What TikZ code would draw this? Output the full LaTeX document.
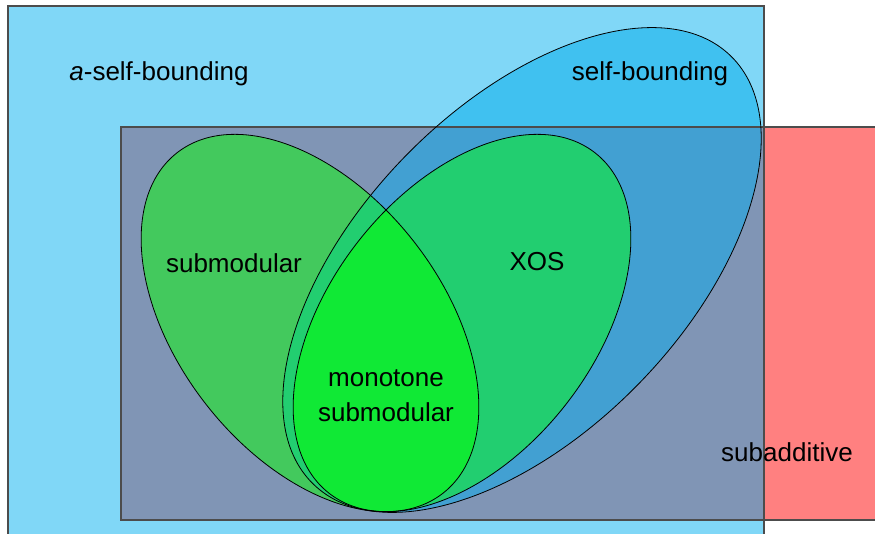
\documentclass[tikz,border=0pt]{standalone}
\usepackage{fontspec}
\setmainfont{Liberation Sans}
\definecolor{cBlue}{RGB}{128,215,247}
\definecolor{cRed}{RGB}{255,128,128}
\definecolor{cGray}{RGB}{128,149,181}
\definecolor{cBtop}{RGB}{64,193,240}
\definecolor{cBlow}{RGB}{66,160,210}
\definecolor{cS}{RGB}{67,201,93}
\definecolor{cX}{RGB}{34,206,112}
\definecolor{cM}{RGB}{16,233,53}
\newcommand\ellS{(310,-323) ellipse [x radius=216, y radius=132]}
\newcommand\ellX{(462,-323) ellipse [x radius=216, y radius=132]}
\newcommand\ellB{(522,-270) ellipse [x radius=299, y radius=163]}
\begin{document}
\begin{tikzpicture}[x=1pt,y=1pt,
  shapeS/.style={rotate around={-52:(310,-323)}},
  shapeX/.style={rotate around={52:(462,-323)}},
  shapeB/.style={rotate around={45.7:(522,-270)}},
  rectline/.style={draw=black!70, line width=1.3pt},
  ellline/.style={draw=black, line width=0.8pt},
  lbl/.style={font=\fontsize{26}{35}\selectfont, align=center, inner sep=0pt}]
\useasboundingbox (0,0) rectangle (875,-534);
\clip (0,0) rectangle (875,-534);
% rectangles
\fill[cBlue] (8,-6) rectangle (764,-545);
\fill[cRed] (121,-127) rectangle (885,-520);
\fill[cGray] (121,-127) rectangle (764,-520);
% self-bounding
\begin{scope}
  \clip (0,0) rectangle (875,-127);
  \fill[cBtop, shapeB] \ellB;
\end{scope}
\begin{scope}
  \clip (0,-127) rectangle (875,-534);
  \fill[cBlow, shapeB] \ellB;
\end{scope}
% submodular
\fill[cS, shapeS] \ellS;
\begin{scope}
  \clip[shapeS] \ellS;
  \fill[cX, shapeB] \ellB;
\end{scope}
% XOS
\fill[cX, shapeX] \ellX;
\begin{scope}
  \clip[shapeS] \ellS;
  \fill[cM, shapeX] \ellX;
\end{scope}
% outlines
\draw[rectline] (8,-545) -- (8,-6) -- (764,-6) -- (764,-545);
\draw[rectline] (885,-127) -- (121,-127) -- (121,-520) -- (885,-520);
\draw[ellline, shapeB] \ellB;
\draw[ellline, shapeS] \ellS;
\draw[ellline, shapeX] \ellX;
% labels
\node[lbl] (asb) at (159,-74) {\textit{a}-self-bounding};
\node[lbl] (sb) at (650,-74) {self-bounding};
\node[lbl] (sub) at (234,-263) {submodular};
\node[lbl] (xos) at (537,-262) {XOS};
\node[lbl] (mono) at (386,-396) {monotone\\submodular};
\node[lbl] (subadd) at (787,-452) {subadditive};
\end{tikzpicture}
\end{document}
